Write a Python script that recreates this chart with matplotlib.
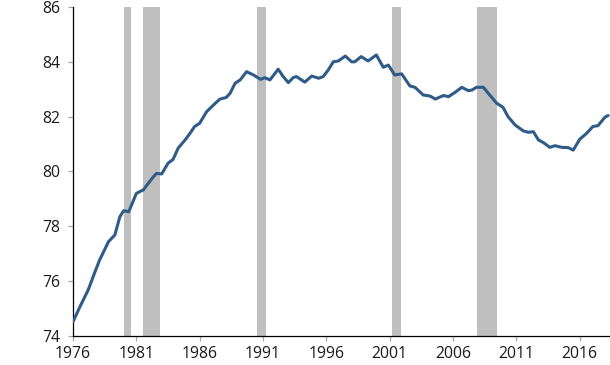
import matplotlib.pyplot as plt

plt.rc('font', family=['Open Sans', 'DejaVu Sans'], size=11.3)

# values
years = [1976.0, 1976.55, 1977.2, 1977.7, 1978.1, 1978.8, 1979.3, 1979.7, 1980.0, 1980.4,
         1981.0, 1981.55, 1982.35, 1982.6, 1983.0, 1983.5, 1983.9, 1984.3, 1984.85, 1985.25,
         1985.6, 1986.0, 1986.55, 1987.1, 1987.6, 1988.1, 1988.4, 1988.8, 1989.2, 1989.7,
         1990.25, 1990.8, 1991.15, 1991.55, 1992.2, 1992.6, 1993.0, 1993.4, 1993.65, 1994.3,
         1994.85, 1995.4, 1995.75, 1996.15, 1996.55, 1996.95, 1997.5, 1998.0, 1998.25, 1998.75,
         1999.3, 1999.95, 2000.5, 2000.9, 2001.4, 2001.95, 2002.6, 2003.0, 2003.65, 2004.2,
         2004.6, 2005.25, 2005.65, 2006.15, 2006.7, 2007.2, 2007.5, 2007.85, 2008.4, 2008.9,
         2009.45, 2009.95, 2010.35, 2010.9, 2011.55, 2011.95, 2012.35, 2012.75, 2013.15, 2013.65,
         2014.05, 2014.6, 2015.1, 2015.5, 2016.0, 2016.55, 2017.05, 2017.45, 2018.0, 2018.25]
values = [74.52, 75.07, 75.68, 76.3, 76.77, 77.44, 77.68, 78.35, 78.57, 78.53,
          79.2, 79.33, 79.81, 79.93, 79.91, 80.3, 80.44, 80.85, 81.15, 81.4,
          81.64, 81.76, 82.18, 82.43, 82.64, 82.7, 82.85, 83.22, 83.34, 83.64,
          83.52, 83.36, 83.42, 83.34, 83.73, 83.46, 83.24, 83.43, 83.46, 83.26,
          83.48, 83.4, 83.46, 83.7, 84.0, 84.03, 84.21, 84.0, 84.0, 84.19,
          84.03, 84.25, 83.8, 83.88, 83.52, 83.56, 83.12, 83.07, 82.79, 82.75,
          82.64, 82.77, 82.73, 82.88, 83.07, 82.95, 82.97, 83.07, 83.07, 82.79,
          82.49, 82.34, 82.0, 81.7, 81.48, 81.43, 81.45, 81.15, 81.05, 80.88,
          80.94, 80.88, 80.87, 80.78, 81.17, 81.39, 81.64, 81.67, 81.98, 82.04]

# recessions (start, end)
rec_start = [1980.0, 1981.5, 1990.5, 2001.2, 2007.9]
rec_end = [1980.6, 1982.9, 1991.2, 2001.9, 2009.5]

xticks = [1976, 1981, 1986, 1991, 1996, 2001, 2006, 2011, 2016]
yticks = [74, 76, 78, 80, 82, 84, 86]

fig = plt.figure(figsize=(6.1, 3.65), dpi=100)
ax = fig.add_axes([0.1197, 0.0795, 0.8803, 0.9014])

for s, e in zip(rec_start, rec_end):
    ax.axvspan(s, e, color='#bfbfbf', lw=0, zorder=1)

ax.plot(years, values, color='#2f5b88', lw=2.2, zorder=3, solid_capstyle='round')

ax.set_xlim(1976, 2018.4)
ax.set_ylim(74, 86)
ax.set_xticks(xticks)
ax.set_yticks(yticks)
ax.spines['top'].set_visible(False)
ax.spines['right'].set_visible(False)
for sp in ['left', 'bottom']:
    ax.spines[sp].set_color('#000000')
    ax.spines[sp].set_linewidth(0.9)
ax.tick_params(axis='x', length=3.5, width=0.9, color='#a6a6a6', labelcolor='#1a1a1a', pad=4)
ax.tick_params(axis='y', length=3.5, width=0.9, color='#a6a6a6', labelcolor='#1a1a1a', pad=6)

fig.savefig('out.png', dpi=100)
